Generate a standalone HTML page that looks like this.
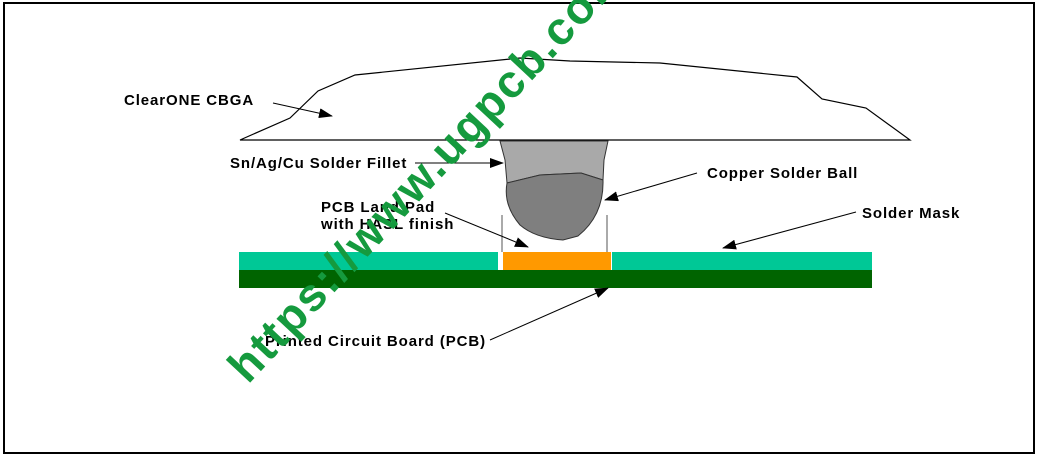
<!DOCTYPE html>
<html><head><style>html,body{margin:0;padding:0;background:#fff}</style></head><body>
<svg width="1040" height="459" viewBox="0 0 1040 459" xmlns="http://www.w3.org/2000/svg" font-family="Liberation Sans, sans-serif">
<defs><marker id="a" markerWidth="14" markerHeight="10" refX="13" refY="5" orient="auto" markerUnits="userSpaceOnUse"><path d="M0,0 L14,5 L0,10 z" fill="#000"/></marker></defs>
<rect x="4" y="3" width="1030" height="450" fill="#fff" stroke="#000" stroke-width="2"/>
<polygon points="240,140 290,118 318,91 355,75 520,58 570,61 660,63 797,77 822,99 866,108 910,140" fill="#fff" stroke="#000" stroke-width="1.2"/>
<line x1="502" y1="215" x2="502" y2="252" stroke="#555" stroke-width="1"/>
<line x1="607" y1="215" x2="607" y2="252" stroke="#555" stroke-width="1"/>
<path d="M500,141 L608,141 L604,160 L603,180 L581,173 L540,175 L507,183 L505,160 Z" fill="#a9a9a9" stroke="#333" stroke-width="1"/>
<path d="M507,183 L540,175 L581,173 L603,180 Q604,215 578,236 L563,240 Q535,238 520,225 Q503,205 507,183 Z" fill="#7f7f7f" stroke="#333" stroke-width="1"/>
<rect x="239" y="252" width="259" height="18" fill="#00c896"/>
<rect x="612" y="252" width="260" height="18" fill="#00c896"/>
<rect x="503" y="252" width="108" height="18" fill="#ff9900"/>
<rect x="239" y="270" width="633" height="18" fill="#006400"/>
<g stroke="#000" stroke-width="1" marker-end="url(#a)">
<line x1="273" y1="103" x2="332" y2="116"/>
<line x1="415" y1="163" x2="503" y2="163"/>
<line x1="697" y1="173" x2="605" y2="200"/>
<line x1="445" y1="213" x2="528" y2="247"/>
<line x1="856" y1="212" x2="723" y2="248"/>
<line x1="490" y1="340" x2="608" y2="288"/>
</g>
<g font-size="15" font-weight="bold" fill="#000" letter-spacing="0.9">
<text x="124" y="105">ClearONE CBGA</text>
<text x="230" y="168">Sn/Ag/Cu Solder Fillet</text>
<text x="321" y="212">PCB Land Pad</text>
<text x="321" y="229">with HASL finish</text>
<text x="707" y="178">Copper Solder Ball</text>
<text x="862" y="218">Solder Mask</text>
<text x="265" y="346">Printed Circuit Board (PCB)</text>
</g>
<text x="248" y="385" transform="rotate(-47 248 385)" font-size="46" font-weight="bold" fill="#159a3e" letter-spacing="2">https://www.ugpcb.com</text>
</svg>
</body></html>
